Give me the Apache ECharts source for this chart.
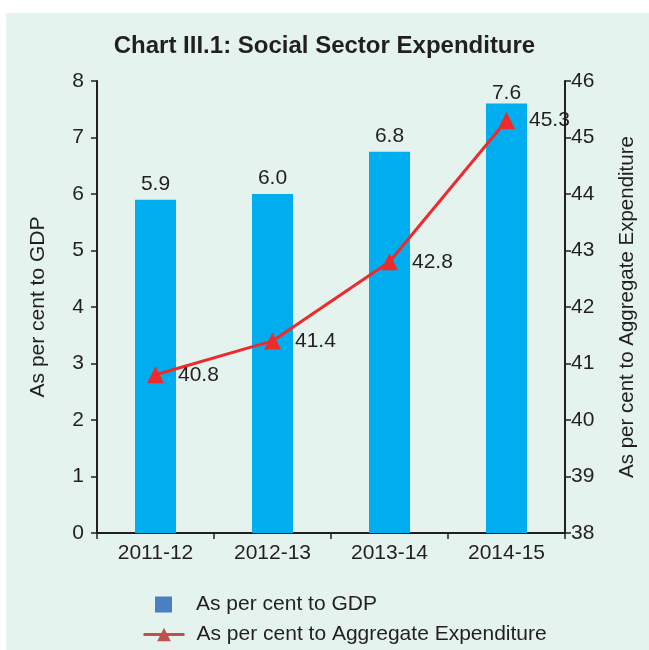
<!DOCTYPE html>
<html><head><meta charset="utf-8">
<script src="https://cdn.jsdelivr.net/npm/echarts@6/dist/echarts.min.js"></script>
<style>html,body{margin:0;padding:0;background:#fff}#c{width:649px;height:650px}</style>
</head><body><div id="c"></div>
<script>
const categories = ['2011-12','2012-13','2013-14','2014-15'];
const gdpValues = [5.9, 6.0, 6.75, 7.6];
const gdpLabels = ['5.9','6.0','6.8','7.6'];
const aggValues = [40.8, 41.4, 42.8, 45.3];
const leftTicks = [0,1,2,3,4,5,6,7,8];
const rightTicks = [38,39,40,41,42,43,44,45,46];

const chart = echarts.init(document.getElementById('c'));
const font = 'Liberation Sans, Arial, Helvetica, sans-serif';
const txt = '#231f20';
chart.setOption({
  backgroundColor: '#fff',
  graphic: [{type:'rect', shape:{x:6,y:13,width:643,height:637}, style:{fill:'#e4f3ee'}, z:-10}],
  title: {text:'Chart III.1: Social Sector Expenditure', left:'center', top:29,
    textStyle:{fontFamily:font, fontSize:24, fontWeight:'bold', color:txt}},
  grid: {left:97, right:84, top:81, bottom:117},
  legend: [
    {orient:'vertical', left:155, top:594, padding:0, itemWidth:17, itemHeight:16,
      textStyle:{fontFamily:font, fontSize:21, color:txt, padding:[0,0,0,19]},
      data:[{name:'As per cent to GDP', icon:'rect', itemStyle:{color:'#4a7fc1'}}]},
    {orient:'vertical', left:142, top:624, padding:0, itemWidth:41, itemHeight:17,
      textStyle:{fontFamily:font, fontSize:21, color:txt, padding:[0,0,0,7]},
      data:[{name:'As per cent to Aggregate Expenditure', itemStyle:{color:'#c0504d'}, lineStyle:{color:'#c0504d', width:3}}]}
  ],
  xAxis: {type:'category', data:categories,
    axisLine:{lineStyle:{color:txt, width:2}},
    axisTick:{show:true, length:6, lineStyle:{color:txt, width:1.5}},
    axisLabel:{fontFamily:font, fontSize:21, color:txt, margin:10}},
  yAxis: [
    {type:'value', min:0, max:8, interval:1, position:'left',
      name:'As per cent to GDP', nameLocation:'middle', nameGap:48, nameRotate:90,
      nameTextStyle:{fontFamily:font, fontSize:21, color:txt},
      axisLine:{show:true, lineStyle:{color:txt, width:2}},
      axisTick:{show:true, length:6, lineStyle:{color:txt, width:1.5}},
      axisLabel:{fontFamily:font, fontSize:21, color:txt, margin:13,
        formatter: v => leftTicks.includes(v) ? String(v) : ''},
      splitLine:{show:false}},
    {type:'value', min:38, max:46, interval:1, position:'right',
      name:'As per cent to Aggregate Expenditure', nameLocation:'middle', nameGap:52, nameRotate:90,
      nameTextStyle:{fontFamily:font, fontSize:20.5, color:txt},
      axisLine:{show:true, lineStyle:{color:txt, width:2}},
      axisTick:{show:true, length:6, lineStyle:{color:txt, width:1.5}},
      axisLabel:{fontFamily:font, fontSize:21, color:txt, margin:6,
        formatter: v => rightTicks.includes(v) ? String(v) : ''},
      splitLine:{show:false}}
  ],
  series: [
    {name:'As per cent to GDP', type:'bar', yAxisIndex:0, barWidth:41,
      data: gdpValues.map((v, i) => i === gdpValues.length - 1 ? {value:v, label:{distance:0}} : v),
      itemStyle:{color:'#00aeef'},
      label:{show:true, position:'top', distance:5, fontFamily:font, fontSize:21, color:txt,
        formatter: p => gdpLabels[p.dataIndex]}},
    {name:'As per cent to Aggregate Expenditure', type:'line', yAxisIndex:1,
      data: aggValues, symbol:'triangle', symbolSize:17,
      itemStyle:{color:'#ee2a2a'}, lineStyle:{color:'#ee2a2a', width:3},
      label:{show:true, position:'right', distance:14, fontFamily:font, fontSize:21, color:txt,
        formatter: p => p.value.toFixed(1)}}
  ]
});
</script></body></html>
